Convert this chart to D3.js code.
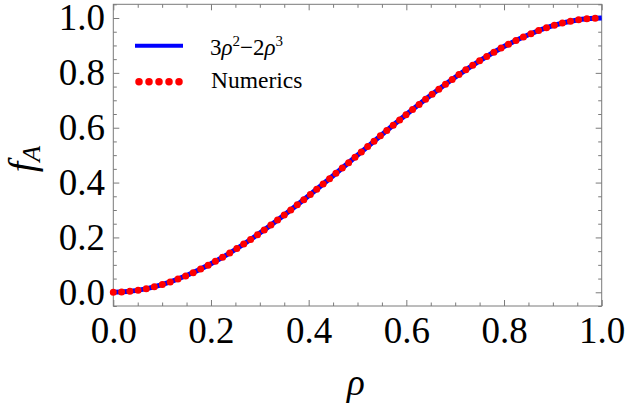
<!DOCTYPE html>
<html>
<head>
<meta charset="utf-8">
<script src="https://cdn.jsdelivr.net/npm/d3@7"></script>
<style>
  body { margin: 0; background: #fff; }
  svg, svg text { font-family: "Liberation Serif", "DejaVu Serif", serif; }
</style>
</head>
<body>
<div id="chart"></div>
<script>
// values
const rho = [0, 0.05, 0.1, 0.15, 0.2, 0.25, 0.3, 0.35, 0.4, 0.45, 0.5,
             0.55, 0.6, 0.65, 0.7, 0.75, 0.8, 0.85, 0.9, 0.95, 1];
const analytic = [0, 0.007, 0.028, 0.061, 0.104, 0.156, 0.216, 0.282, 0.352, 0.425, 0.5,
                  0.575, 0.648, 0.718, 0.784, 0.844, 0.896, 0.939, 0.972, 0.993, 1];
const numerics = [0, 0.007, 0.028, 0.061, 0.104, 0.156, 0.216, 0.282, 0.352, 0.425, 0.5,
                  0.575, 0.648, 0.718, 0.784, 0.844, 0.896, 0.939, 0.972, 0.993, 1];
const xTicks = [0, 0.2, 0.4, 0.6, 0.8, 1.0];
const yTicks = [0, 0.2, 0.4, 0.6, 0.8, 1.0];
const minorTicks = [-0.05, 0.05, 0.1, 0.15, 0.25, 0.3, 0.35, 0.45, 0.5, 0.55, 0.65, 0.7, 0.75,
                    0.85, 0.9, 0.95, 1.05];

const width = 625, height = 409;
const frame = {left: 113.3, right: 601.7, top: 4.3, bottom: 306};
const frameColor = "#7a7a7a";

const svg = d3.select("#chart").append("svg")
    .attr("width", width)
    .attr("height", height);

const x = d3.scaleLinear().domain([0, 1]).range([frame.left, frame.right]);
const y = d3.scaleLinear().domain([-0.05, 1.05]).range([frame.bottom, frame.top]);

// ticks (inward, on all four sides)
function styleAxis(g) {
    g.attr("font-family", null).attr("font-size", null);
    g.select(".domain").remove();
    g.selectAll(".tick line").attr("stroke", frameColor);
    g.selectAll(".tick text").attr("fill", "#000").style("font-size", "37px");
}

const fmt = d3.format(".1f");
const innerMinor = minorTicks.filter(v => v > 0 && v < 1);

svg.append("g").attr("transform", `translate(0,${frame.bottom})`)
    .call(d3.axisBottom(x).tickValues(xTicks).tickFormat(fmt).tickSize(-6).tickPadding(10.5))
    .call(styleAxis);
svg.append("g").attr("transform", `translate(0,${frame.bottom})`)
    .call(d3.axisBottom(x).tickValues(innerMinor).tickFormat("").tickSize(-3.5))
    .call(styleAxis);
svg.append("g").attr("transform", `translate(0,${frame.top})`)
    .call(d3.axisTop(x).tickValues(xTicks).tickFormat("").tickSize(-6))
    .call(styleAxis);
svg.append("g").attr("transform", `translate(0,${frame.top})`)
    .call(d3.axisTop(x).tickValues(innerMinor).tickFormat("").tickSize(-3.5))
    .call(styleAxis);

svg.append("g").attr("transform", `translate(${frame.left},0)`)
    .call(d3.axisLeft(y).tickValues(yTicks).tickFormat(fmt).tickSize(-6).tickPadding(8.3))
    .call(styleAxis);
svg.append("g").attr("transform", `translate(${frame.left},0)`)
    .call(d3.axisLeft(y).tickValues(minorTicks).tickFormat("").tickSize(-3.5))
    .call(styleAxis);
svg.append("g").attr("transform", `translate(${frame.right},0)`)
    .call(d3.axisRight(y).tickValues(yTicks).tickFormat("").tickSize(-6))
    .call(styleAxis);
svg.append("g").attr("transform", `translate(${frame.right},0)`)
    .call(d3.axisRight(y).tickValues(minorTicks).tickFormat("").tickSize(-3.5))
    .call(styleAxis);

// frame
svg.append("rect")
    .attr("x", frame.left).attr("y", frame.top)
    .attr("width", frame.right - frame.left).attr("height", frame.bottom - frame.top)
    .attr("fill", "none").attr("stroke", frameColor).attr("stroke-width", 1);

// curves
const line = d3.line().curve(d3.curveMonotoneX);

svg.append("path")
    .attr("d", line(rho.map((r, i) => [x(r), y(analytic[i])])))
    .attr("fill", "none")
    .attr("stroke", "#0000ff")
    .attr("stroke-width", 5);

svg.append("path")
    .attr("d", line(rho.map((r, i) => [x(r), y(numerics[i])])))
    .attr("fill", "none")
    .attr("stroke", "#ff0000")
    .attr("stroke-width", 7)
    .attr("stroke-linecap", "round")
    .attr("stroke-dasharray", "0 8.3");

// legend
const legend = svg.append("g");
legend.append("line")
    .attr("x1", 135).attr("x2", 183).attr("y1", 45.7).attr("y2", 45.7)
    .attr("stroke", "#0000ff").attr("stroke-width", 4);
legend.append("line")
    .attr("x1", 139).attr("x2", 179.5).attr("y1", 81.7).attr("y2", 81.7)
    .attr("stroke", "#ff0000").attr("stroke-width", 7.5)
    .attr("stroke-linecap", "round").attr("stroke-dasharray", "0 10");

const formula = legend.append("text").attr("x", 210).attr("y", 55).style("font-size", "23px");
formula.append("tspan").text("3");
formula.append("tspan").style("font-style", "italic").text("ρ");
formula.append("tspan").style("font-size", "15px").attr("dy", -9).text("2");
formula.append("tspan").attr("dy", 9).text("−2");
formula.append("tspan").style("font-style", "italic").text("ρ");
formula.append("tspan").style("font-size", "15px").attr("dy", -9).text("3");

legend.append("text").attr("x", 211).attr("y", 88.3).style("font-size", "23.5px").text("Numerics");

// axis titles
svg.append("text")
    .attr("x", 356).attr("y", 394.6)
    .attr("text-anchor", "middle")
    .style("font-size", "37px").style("font-style", "italic")
    .text("ρ");

const ylab = svg.append("text")
    .attr("transform", "translate(35,159) rotate(-90)")
    .attr("text-anchor", "middle")
    .style("font-size", "38px");
ylab.append("tspan").style("font-style", "italic").text("f");
ylab.append("tspan").style("font-style", "italic").style("font-size", "26px").attr("dy", 5).text("A");
</script>
</body>
</html>
